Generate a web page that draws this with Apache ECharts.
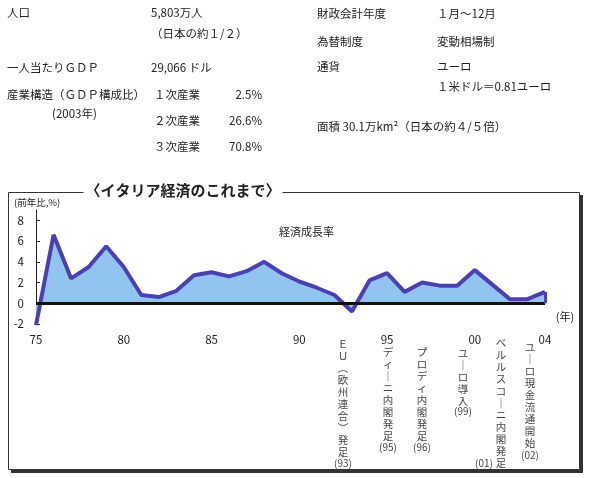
<!DOCTYPE html>
<html>
<head>
<meta charset="utf-8">
<script src="https://cdn.jsdelivr.net/npm/echarts@6/dist/echarts.min.js"></script>
<style>
  html, body { margin: 0; padding: 0; background: #fff; }
  #main { width: 589px; height: 478px; }
</style>
</head>
<body>
<div id="main"></div>
<script>
// 実質GDP成長率 (前年比, %)
const years = [1975, 1976, 1977, 1978, 1979, 1980, 1981, 1982, 1983, 1984,
  1985, 1986, 1987, 1988, 1989, 1990, 1991, 1992, 1993, 1994,
  1995, 1996, 1997, 1998, 1999, 2000, 2001, 2002, 2003, 2004];
const growth = [-2.1, 6.6, 2.4, 3.5, 5.5, 3.5, 0.8, 0.6, 1.2, 2.7,
  3.0, 2.6, 3.1, 4.0, 2.9, 2.1, 1.5, 0.8, -0.8, 2.2,
  2.9, 1.1, 2.0, 1.7, 1.7, 3.2, 1.8, 0.4, 0.4, 1.1];
const xTickYears = [1975, 1980, 1985, 1990, 1995, 2000, 2004];
const yTicks = [-2, 0, 2, 4, 6, 8];

// 出来事 (縦書き)
const events = [
  { chars: ['Ｅ', 'Ｕ', '︵', '欧', '州', '連', '合', '︶', '発', '足'], year: '(93)' },
  { chars: ['デ', 'ィ', '｜', 'ニ', '内', '閣', '発', '足'], year: '(95)' },
  { chars: ['プ', 'ロ', 'デ', 'ィ', '内', '閣', '発', '足'], year: '(96)' },
  { chars: ['ユ', '｜', 'ロ', '導', '入'], year: '(99)' },
  { chars: ['ベ', 'ル', 'ル', 'ス', 'コ', '｜', 'ニ', '内', '閣', '発', '足'], year: '(01)' },
  { chars: ['ユ', '｜', 'ロ', '現', '金', '流', '通', '開', '始'], year: '(02)' }
];

const FONT = '"Noto Sans CJK JP", sans-serif';
const TXT = '#222';

let chartDom = document.getElementById('main');
let myChart = echarts.init(chartDom);

function txt(text, x, y, opt) {
  opt = opt || {};
  return {
    type: 'text', x: x, y: y, z: 100,
    style: {
      text: text,
      fill: opt.fill || TXT,
      font: (opt.weight || 'normal') + ' ' + (opt.size || 11.5) + 'px ' + FONT,
      align: opt.align || 'left',
      verticalAlign: opt.va || 'middle',
      lineHeight: opt.lh,
      backgroundColor: opt.bg,
      padding: opt.pad
    }
  };
}

// 上の表
let graphics = [
  txt('人口', 7, 13),
  txt('5,803万人', 151, 13),
  txt('（日本の約１/２）', 151, 34),
  txt('一人当たりＧＤＰ', 7, 68),
  txt('29,066 ドル', 151, 68),
  txt('産業構造（ＧＤＰ構成比）', 7, 95),
  txt('(2003年)', 52, 114),
  txt('１次産業', 154, 95),
  txt('2.5%', 262, 95, { align: 'right' }),
  txt('２次産業', 154, 121),
  txt('26.6%', 262, 121, { align: 'right' }),
  txt('３次産業', 154, 147),
  txt('70.8%', 262, 147, { align: 'right' }),
  txt('財政会計年度', 317, 14),
  txt('１月～12月', 437, 14),
  txt('為替制度', 317, 42),
  txt('変動相場制', 437, 42),
  txt('通貨', 317, 67),
  txt('ユーロ', 437, 67),
  txt('１米ドル＝0.81ユーロ', 437, 87),
  txt('面積 30.1万km²（日本の約４/５倍）', 317, 127),

  // 枠と影
  { type: 'rect', z: 1, shape: { x: 11, y: 470, width: 572, height: 3 }, style: { fill: '#333' } },
  { type: 'rect', z: 1, shape: { x: 580, y: 195, width: 3, height: 278 }, style: { fill: '#333' } },
  { type: 'rect', z: 2, shape: { x: 8.5, y: 192.5, width: 571, height: 277 }, style: { fill: 'none', stroke: '#333', lineWidth: 1 } },
  txt('〈イタリア経済のこれまで〉', 183, 190, { align: 'center', size: 15, weight: 'bold', bg: '#fff', pad: [0, 2] }),

  txt('(前年比,%)', 14, 202, { size: 9.5 }),
  txt('経済成長率', 279, 232, { size: 11 }),
  txt('(年)', 565, 317, { size: 11, align: 'center' })
];

// 縦書き注記
const eventPos = [
  { x: 343, y: 338, yx: 343, yy: 463 },
  { x: 388, y: 346, yx: 388, yy: 447 },
  { x: 422, y: 346, yx: 422, yy: 447 },
  { x: 463, y: 347, yx: 463, yy: 411 },
  { x: 501, y: 337, yx: 484, yy: 463 },
  { x: 530, y: 341, yx: 530, yy: 455 }
];
events.forEach(function (ev, i) {
  let p = eventPos[i];
  graphics.push(txt(ev.chars.join('\n'), p.x, p.y, { size: 10.5, lh: 12, align: 'center', va: 'top', fill: '#444' }));
  graphics.push(txt(ev.year, p.yx, p.yy, { size: 10, align: 'center', fill: '#444' }));
});

let option = {
  animation: false,
  grid: { left: 36, right: 44, top: 210, bottom: 154 },
  xAxis: {
    type: 'value',
    min: 1975,
    max: 2004,
    axisLine: { show: false },
    axisTick: { show: false },
    splitLine: { show: false },
    axisLabel: {
      customValues: xTickYears,
      formatter: function (v) { return String(v % 100).padStart(2, '0'); },
      color: TXT,
      fontSize: 11.5,
      fontFamily: FONT,
      margin: 10
    }
  },
  yAxis: {
    type: 'value',
    min: -2,
    max: 9,
    axisLine: { show: true, lineStyle: { color: '#222', width: 1 } },
    axisTick: { show: true, inside: true, length: 4, customValues: yTicks, lineStyle: { color: '#222' } },
    splitLine: { show: false },
    axisLabel: {
      customValues: yTicks,
      color: TXT,
      fontSize: 11.5,
      fontFamily: FONT,
      margin: 12
    }
  },
  series: [
    {
      type: 'line',
      data: years.map(function (y, i) { return [y, growth[i]]; }),
      symbol: 'none',
      lineStyle: { color: '#4a3fb4', width: 4 },
      areaStyle: { color: '#92c4f0', opacity: 1 },
      z: 3,
      markLine: {
        silent: true,
        symbol: 'none',
        label: { show: false },
        data: [
          { yAxis: 0, lineStyle: { color: '#111', width: 3, type: 'solid' } },
          [
            { coord: [years[years.length - 1], 0], lineStyle: { color: '#4a3fb4', width: 3, type: 'solid' } },
            { coord: [years[years.length - 1], growth[growth.length - 1]] }
          ]
        ]
      }
    }
  ],
  graphic: graphics
};

option && myChart.setOption(option);
</script>
</body>
</html>
